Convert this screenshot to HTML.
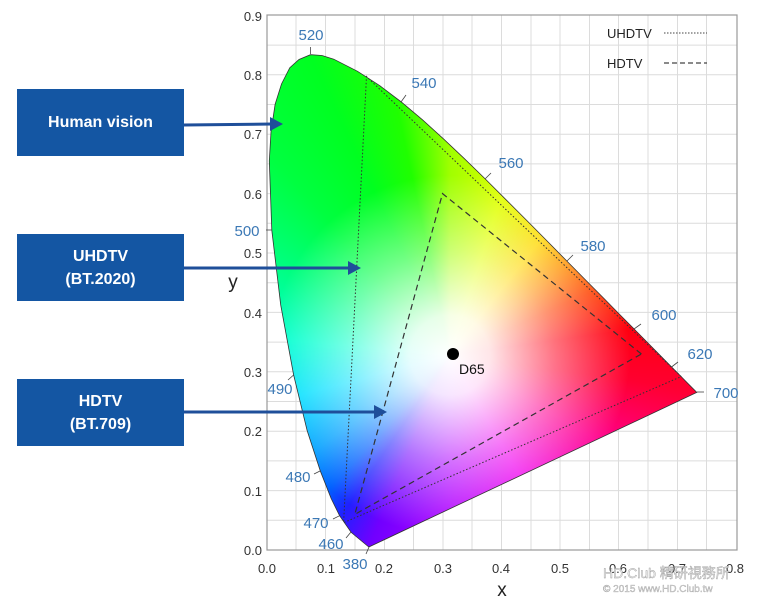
<!DOCTYPE html>
<html><head><meta charset="utf-8"><style>
body{margin:0;width:760px;height:612px;background:#fff;position:relative;overflow:hidden;font-family:"Liberation Sans","DejaVu Sans",sans-serif}
#cie{position:absolute;left:0;top:0;width:760px;height:612px;
clip-path:polygon(368.8px 547px,351.2px 532.4px,339.6px 515.7px,331.1px 498.4px,320.4px 471.2px,307.2px 430.8px,293.6px 374.8px,280.7px 304.9px,271.8px 230.2px,269.3px 161px,271px 132px,275.1px 104.4px,281.5px 84px,289.8px 67.7px,299px 59.5px,310.5px 54.7px,322px 55.5px,333.8px 59.2px,357.5px 71.3px,379.8px 85.7px,401.3px 102px,422.5px 119.8px,443.4px 138.8px,464.3px 158.6px,485.3px 179px,506.1px 199.8px,526.8px 220.5px,547.1px 241px,566.8px 261px,585.7px 280.1px,603.5px 298px,619.7px 314.5px,633.8px 328.7px,656.5px 351.6px,671.5px 366.9px,681.1px 376.5px,687.6px 383.2px,696.8px 392.4px);
background:radial-gradient(circle at 450px 355px,#fff 0,rgba(255,255,255,.9) 40px,rgba(255,255,255,.45) 105px,rgba(255,255,255,0) 180px),
conic-gradient(from 0deg at 450px 355px,#a0ff00 0deg,#e0ff00 18deg,#ffd800 38deg,#ff9000 52deg,#ff4000 66deg,#ff0010 82deg,#ff0030 98deg,#ff0090 120deg,#f000f0 150deg,#b000ff 180deg,#7000ff 203deg,#2020ff 214deg,#0060ff 222deg,#00a0ff 235deg,#00e0ff 255deg,#00ffd0 275deg,#00ff80 298deg,#00ff40 318deg,#00ff20 335deg,#20ff00 348deg,#a0ff00 360deg)}
.box{position:absolute;left:17px;width:167px;height:67px;background:#1456a3;color:#fff;font-weight:bold;font-size:16px;display:flex;align-items:center;justify-content:center;text-align:center;line-height:23px}
</style></head><body>
<svg width="760" height="612" style="position:absolute;left:0;top:0">
<g stroke="#dcdcdc" stroke-width="1">
<line x1="296" y1="15" x2="296" y2="550"/><line x1="325.5" y1="15" x2="325.5" y2="550"/><line x1="355" y1="15" x2="355" y2="550"/><line x1="384.5" y1="15" x2="384.5" y2="550"/><line x1="413.5" y1="15" x2="413.5" y2="550"/><line x1="443" y1="15" x2="443" y2="550"/><line x1="472" y1="15" x2="472" y2="550"/><line x1="501.5" y1="15" x2="501.5" y2="550"/><line x1="531" y1="15" x2="531" y2="550"/><line x1="560" y1="15" x2="560" y2="550"/><line x1="589.5" y1="15" x2="589.5" y2="550"/><line x1="618.5" y1="15" x2="618.5" y2="550"/><line x1="648" y1="15" x2="648" y2="550"/><line x1="677.5" y1="15" x2="677.5" y2="550"/><line x1="706.5" y1="15" x2="706.5" y2="550"/>
<line x1="267" y1="520.3" x2="737" y2="520.3"/><line x1="267" y1="490.6" x2="737" y2="490.6"/><line x1="267" y1="460.9" x2="737" y2="460.9"/><line x1="267" y1="431.2" x2="737" y2="431.2"/><line x1="267" y1="401.5" x2="737" y2="401.5"/><line x1="267" y1="371.8" x2="737" y2="371.8"/><line x1="267" y1="342.1" x2="737" y2="342.1"/><line x1="267" y1="312.4" x2="737" y2="312.4"/><line x1="267" y1="282.7" x2="737" y2="282.7"/><line x1="267" y1="253" x2="737" y2="253"/><line x1="267" y1="223.3" x2="737" y2="223.3"/><line x1="267" y1="193.6" x2="737" y2="193.6"/><line x1="267" y1="163.9" x2="737" y2="163.9"/><line x1="267" y1="134.2" x2="737" y2="134.2"/><line x1="267" y1="104.5" x2="737" y2="104.5"/><line x1="267" y1="74.8" x2="737" y2="74.8"/><line x1="267" y1="45.1" x2="737" y2="45.1"/>
</g>
<rect x="267" y="15" width="470" height="535" fill="none" stroke="#999" stroke-width="1.2"/>
</svg>
<div id="cie"></div>
<svg width="760" height="612" style="position:absolute;left:0;top:0">
<polygon fill="none" stroke="#333" stroke-width="0.8" points="368.8,547 351.2,532.4 339.6,515.7 331.1,498.4 320.4,471.2 307.2,430.8 293.6,374.8 280.7,304.9 271.8,230.2 269.3,161 271,132 275.1,104.4 281.5,84 289.8,67.7 299,59.5 310.5,54.7 322,55.5 333.8,59.2 357.5,71.3 379.8,85.7 401.3,102 422.5,119.8 443.4,138.8 464.3,158.6 485.3,179 506.1,199.8 526.8,220.5 547.1,241 566.8,261 585.7,280.1 603.5,298 619.7,314.5 633.8,328.7 656.5,351.6 671.5,366.9 681.1,376.5 687.6,383.2 696.8,392.4"/>
<polygon fill="none" stroke="#333" stroke-width="1" stroke-dasharray="1.5,2" points="681.2,376.6 366.5,76.6 343.6,522.7"/>
<polygon fill="none" stroke="#333" stroke-width="1.2" stroke-dasharray="6,4" points="641.4,354 442.5,193.6 354.8,514.4"/>
<circle cx="453" cy="354" r="6" fill="#000"/>
<text x="459" y="374" font-size="14" fill="#111">D65</text>
<g stroke="#444" stroke-width="0.8">
<line x1="310.5" y1="54" x2="310.5" y2="47"/><line x1="401" y1="102" x2="406" y2="95"/><line x1="485" y1="179" x2="491" y2="173"/><line x1="567" y1="261" x2="573" y2="255"/><line x1="634" y1="329" x2="641" y2="324"/><line x1="671.5" y1="367" x2="678" y2="362"/><line x1="697" y1="392" x2="704" y2="392"/><line x1="272" y1="230" x2="266" y2="230"/><line x1="293.6" y1="375" x2="288" y2="380"/><line x1="320" y1="471" x2="314" y2="474"/><line x1="339.6" y1="515.7" x2="333" y2="519"/><line x1="351" y1="532" x2="346" y2="538"/><line x1="369" y1="547" x2="366" y2="554"/>
</g>
<g font-size="15" fill="#3b78b5">
<text x="311" y="40" text-anchor="middle">520</text><text x="424" y="88" text-anchor="middle">540</text><text x="511" y="168" text-anchor="middle">560</text><text x="593" y="251" text-anchor="middle">580</text><text x="664" y="320" text-anchor="middle">600</text><text x="700" y="359" text-anchor="middle">620</text><text x="726" y="398" text-anchor="middle">700</text><text x="247" y="236" text-anchor="middle">500</text><text x="280" y="394" text-anchor="middle">490</text><text x="298" y="482" text-anchor="middle">480</text><text x="316" y="528" text-anchor="middle">470</text><text x="331" y="549" text-anchor="middle">460</text><text x="355" y="569" text-anchor="middle">380</text>
</g>
<g font-size="13" fill="#333" text-anchor="end">
<text x="262" y="555">0.0</text><text x="262" y="496">0.1</text><text x="262" y="436">0.2</text><text x="262" y="377">0.3</text><text x="262" y="318">0.4</text><text x="262" y="258">0.5</text><text x="262" y="199">0.6</text><text x="262" y="139">0.7</text><text x="262" y="80">0.8</text><text x="262" y="21">0.9</text>
</g>
<g font-size="13" fill="#333" text-anchor="middle">
<text x="267" y="573">0.0</text><text x="326" y="573">0.1</text><text x="384" y="573">0.2</text><text x="443" y="573">0.3</text><text x="501" y="573">0.4</text><text x="560" y="573">0.5</text><text x="618" y="573">0.6</text><text x="677" y="573">0.7</text><text x="735" y="573">0.8</text>
</g>
<text x="502" y="596" font-size="19" fill="#222" text-anchor="middle">x</text>
<text x="233" y="288" font-size="19" fill="#222" text-anchor="middle">y</text>
<text x="607" y="38" font-size="13" fill="#222">UHDTV</text>
<line x1="664" y1="33" x2="707" y2="33" stroke="#444" stroke-width="1" stroke-dasharray="1.5,1.5"/>
<text x="607" y="68" font-size="13" fill="#222">HDTV</text>
<line x1="664" y1="63" x2="707" y2="63" stroke="#444" stroke-width="1.2" stroke-dasharray="5,3"/>
<g stroke="#1f4f9a" stroke-width="3" fill="#1f4f9a">
<line x1="184" y1="125" x2="272" y2="124"/><polygon stroke="none" points="283,124 270,117 270,131"/>
<line x1="184" y1="268" x2="350" y2="268"/><polygon stroke="none" points="361,268 348,261 348,275"/>
<line x1="184" y1="412" x2="376" y2="412"/><polygon stroke="none" points="387,412 374,405 374,419"/>
</g>
<text x="603" y="578" font-size="14" fill="#eee" stroke="#999" stroke-width="0.4" font-family="Liberation Sans,Noto Sans CJK TC,sans-serif">HD.Club 精研視務所</text>
<text x="603" y="592" font-size="10" fill="#ddd" stroke="#999" stroke-width="0.3">© 2015  www.HD.Club.tw</text>
</svg>
<div class="box" style="top:89px">Human vision</div>
<div class="box" style="top:234px">UHDTV<br>(BT.2020)</div>
<div class="box" style="top:379px">HDTV<br>(BT.709)</div>
</body></html>
